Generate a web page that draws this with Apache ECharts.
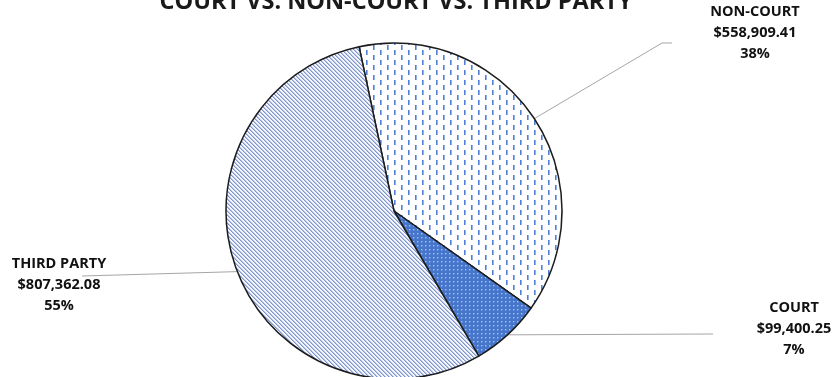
<!DOCTYPE html>
<html>
<head>
<meta charset="utf-8">
<script src="https://cdn.jsdelivr.net/npm/echarts@6/dist/echarts.min.js"></script>
<style>
  html, body { margin: 0; padding: 0; background: #ffffff; }
  #chart { width: 835px; height: 377px; }
</style>
</head>
<body>
<div id="chart"></div>
<script>
// Chart text and values
const titleText = 'COURT VS. NON-COURT VS. THIRD PARTY';
const categories = ['NON-COURT', 'COURT', 'THIRD PARTY'];
const amounts = [558909.41, 99400.25, 807362.08];

// Small canvas tiles used as repeating fill patterns
function makeTile(w, h, draw) {
  const c = document.createElement('canvas');
  c.width = w; c.height = h;
  draw(c.getContext('2d'), w, h);
  return c;
}

// White ground with staggered vertical blue dashes
const dashTile = makeTile(14, 10, (ctx, w, h) => {
  ctx.fillStyle = '#ffffff';
  ctx.fillRect(0, 0, w, h);
  ctx.fillStyle = '#4f80d6';
  ctx.fillRect(2, 0, 1.6, 5);
  ctx.fillRect(9, 5, 1.6, 5);
});

// Blue ground with small light dots
const dotTile = makeTile(4, 4, (ctx, w, h) => {
  ctx.fillStyle = '#4675cc';
  ctx.fillRect(0, 0, w, h);
  ctx.fillStyle = '#a9c0ec';
  ctx.fillRect(1, 1, 1.4, 1.4);
});

// Light ground with thin diagonal stripes running down to the right
const stripeTile = makeTile(4, 4, (ctx, w, h) => {
  const img = ctx.createImageData(w, h);
  for (let y = 0; y < h; y++) {
    for (let x = 0; x < w; x++) {
      const k = (((x - y) % 4) + 4) % 4;
      let c;
      if (k === 0) c = [128, 148, 200];
      else if (k === 1) c = [184, 198, 232];
      else c = [244, 247, 253];
      const p = (y * w + x) * 4;
      img.data[p] = c[0]; img.data[p + 1] = c[1]; img.data[p + 2] = c[2]; img.data[p + 3] = 255;
    }
  }
  ctx.putImageData(img, 0, 0);
});

const fills = [dashTile, dotTile, stripeTile];

// Label placement and leader-line bends for each slice
const labelSpots = [
  { x: 755, y: 33, bend: [[662, 43], [672, 43]] },
  { x: 794, y: 329, bend: [[713, 334]] },
  { x: 59, y: 285, bend: [[82, 276]] }
];

function money(v) {
  return '$' + v.toLocaleString('en-US', { minimumFractionDigits: 2, maximumFractionDigits: 2 });
}

const chart = echarts.init(document.getElementById('chart'), null, { renderer: 'canvas' });

chart.setOption({
  backgroundColor: '#ffffff',
  animation: false,
  title: {
    text: titleText,
    left: 391,
    top: -15,
    textAlign: 'center',
    textStyle: {
      fontFamily: 'Open Sans',
      fontWeight: 'bold',
      fontSize: 23.5,
      color: '#1a1a1a'
    }
  },
  series: [{
    type: 'pie',
    center: [394, 211],
    radius: 168,
    startAngle: 102,
    clockwise: true,
    percentPrecision: 0,
    avoidLabelOverlap: false,
    data: categories.map((name, i) => ({
      name: name,
      value: amounts[i],
      itemStyle: { color: { image: fills[i], repeat: 'repeat' } }
    })),
    itemStyle: {
      borderColor: '#1c1c1c',
      borderWidth: 1.5
    },
    label: {
      show: true,
      position: 'outside',
      fontFamily: 'Open Sans',
      fontWeight: 'bold',
      fontSize: 14.5,
      lineHeight: 21,
      color: '#111111',
      align: 'center',
      formatter: (p) => p.name + '\n' + money(p.value) + '\n' + p.percent + '%'
    },
    labelLine: {
      show: true,
      length: 20,
      length2: 20,
      lineStyle: { color: '#a6a6a6', width: 1 }
    },
    emphasis: { disabled: true },
    labelLayout: function (params) {
      const spot = labelSpots[params.dataIndex];
      const start = params.labelLinePoints ? params.labelLinePoints[0] : null;
      const out = {
        x: spot.x,
        y: spot.y,
        align: 'center',
        verticalAlign: 'middle'
      };
      if (start) {
        out.labelLinePoints = [start].concat(spot.bend.length === 1 ? [spot.bend[0], spot.bend[0]] : spot.bend);
      }
      return out;
    }
  }]
});
</script>
</body>
</html>
